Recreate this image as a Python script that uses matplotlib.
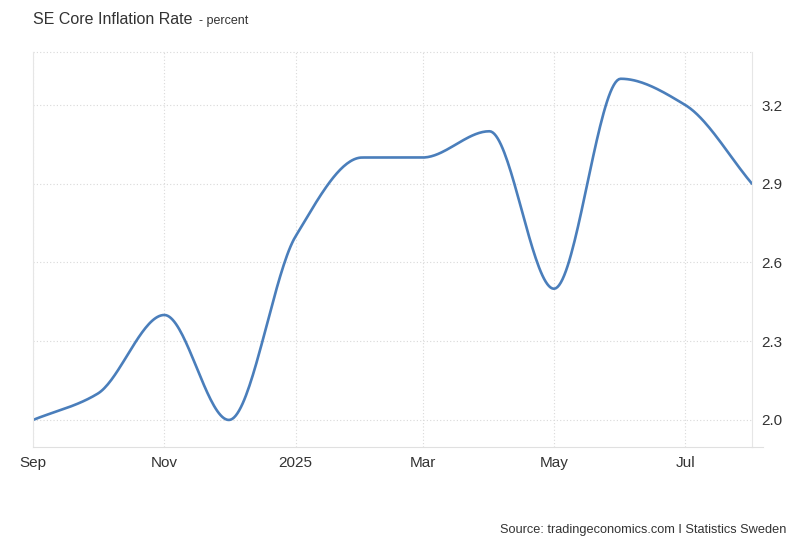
import numpy as np
import matplotlib
matplotlib.use("Agg")
import matplotlib.pyplot as plt
import matplotlib.dates as mdates
from datetime import date

plt.rcParams['font.family'] = ['Liberation Sans', 'DejaVu Sans']

# data
months = ['2024-09-01', '2024-10-01', '2024-11-01', '2024-12-01',
          '2025-01-01', '2025-02-01', '2025-03-01', '2025-04-01',
          '2025-05-01', '2025-06-01', '2025-07-01', '2025-08-01']
values = [2.0, 2.1, 2.4, 2.0, 2.7, 3.0, 3.0, 3.1, 2.5, 3.3, 3.2, 2.9]
tick_dates = ['2024-09-01', '2024-11-01', '2025-01-01',
              '2025-03-01', '2025-05-01', '2025-07-01']
tick_labels = ['Sep', 'Nov', '2025', 'Mar', 'May', 'Jul']
yticks = [2.0, 2.3, 2.6, 2.9, 3.2]

LINE = '#4a7ebb'
TXT = '#333333'
GRID = '#d9d9d9'


def monotone(x, y, n=40):
    # monotone cubic (Fritsch-Carlson) for drawing the smooth line
    x = np.asarray(x, float)
    y = np.asarray(y, float)
    h = np.diff(x)
    d = np.diff(y) / h
    m = np.zeros_like(y)
    m[0], m[-1] = d[0], d[-1]
    for i in range(1, len(y) - 1):
        if d[i - 1] * d[i] <= 0:
            m[i] = 0
        else:
            w1 = 2 * h[i] + h[i - 1]
            w2 = h[i] + 2 * h[i - 1]
            m[i] = (w1 + w2) / (w1 / d[i - 1] + w2 / d[i])
    xs, ys = [], []
    for i in range(len(h)):
        t = np.linspace(0, 1, n)
        h00 = 2 * t**3 - 3 * t**2 + 1
        h10 = t**3 - 2 * t**2 + t
        h01 = -2 * t**3 + 3 * t**2
        h11 = t**3 - t**2
        xs.append(x[i] + t * h[i])
        ys.append(h00 * y[i] + h10 * h[i] * m[i] + h01 * y[i + 1] + h11 * h[i] * m[i + 1])
    return np.concatenate(xs), np.concatenate(ys)


xd = mdates.date2num([date.fromisoformat(s) for s in months])
xs, ys = monotone(xd, values)

fig = plt.figure(figsize=(8, 5.47), dpi=100)
ax = fig.add_axes([33 / 800, 1 - 447 / 547, (752 - 33) / 800, (447 - 52) / 547])

ax.plot(xs, ys, color=LINE, lw=1.9, solid_capstyle='round')

ax.set_xlim(xd[0], xd[-1])
ax.set_ylim(1.897, 3.402)

xt = mdates.date2num([date.fromisoformat(s) for s in tick_dates])
ax.set_xticks(xt)
ax.set_xticklabels(tick_labels)
ax.set_yticks(yticks)
ax.set_yticklabels(['%.1f' % v for v in yticks])
ax.yaxis.tick_right()
ax.tick_params(axis='both', length=0, labelsize=11, colors=TXT)
ax.tick_params(axis='x', pad=6.5)
ax.tick_params(axis='y', pad=7)

ax.grid(True, color=GRID, linestyle=(0, (1, 2)), linewidth=0.8)
ax.axhline(3.402, color=GRID, linestyle=(0, (1, 2)), linewidth=0.8, clip_on=False)

ax.spines['top'].set_visible(False)
for s in ['left', 'right']:
    ax.spines[s].set_color('#e6e6e6')
    ax.spines[s].set_linewidth(0.8)
ax.spines['bottom'].set_color('#e0e0e0')
ax.spines['bottom'].set_linewidth(0.8)
ax.plot([xd[-1], xd[-1] + 5], [1.897, 1.897], color='#e0e0e0', lw=0.8, clip_on=False)

fig.text(33 / 800, 1 - 20 / 547, 'SE Core Inflation Rate', fontsize=11.5, color=TXT, va='center')
fig.text(199 / 800, 1 - 21 / 547, '- percent', fontsize=9, color=TXT, va='center')
fig.text(786 / 800, 1 - 530 / 547, 'Source: tradingeconomics.com I Statistics Sweden',
         fontsize=9.2, color=TXT, ha='right', va='center')

fig.savefig('out.png', dpi=100)
